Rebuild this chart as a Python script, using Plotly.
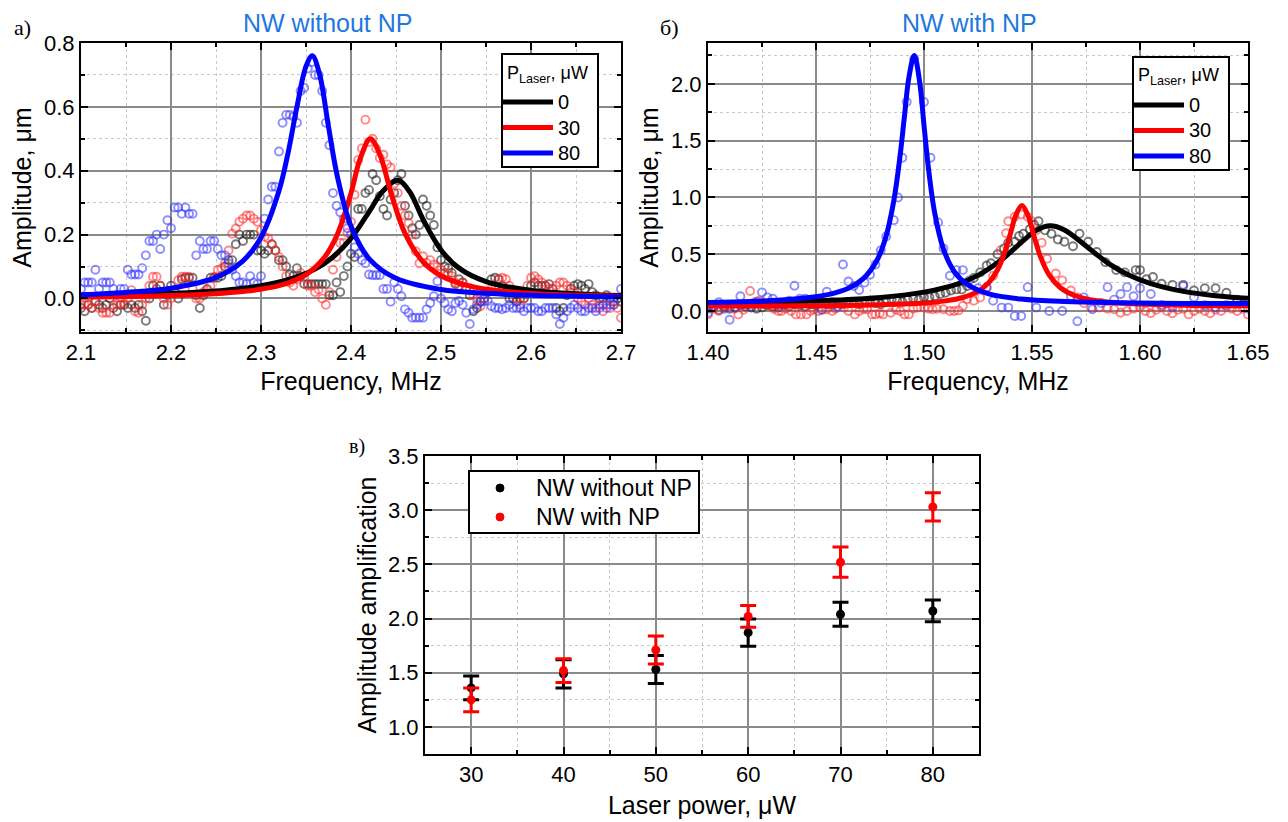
import plotly.graph_objects as go

# ---------------- Panel a: NW without NP ----------------
FREQ_A = [
    2.100, 2.104, 2.108, 2.112, 2.116, 2.120, 2.124, 2.128, 2.132, 2.136,
    2.140, 2.144, 2.148, 2.152, 2.156, 2.160, 2.164, 2.168, 2.172, 2.176,
    2.180, 2.184, 2.188, 2.192, 2.196, 2.200, 2.204, 2.208, 2.212, 2.216,
    2.220, 2.224, 2.228, 2.232, 2.236, 2.240, 2.244, 2.248, 2.252, 2.256,
    2.260, 2.264, 2.268, 2.272, 2.276, 2.280, 2.284, 2.288, 2.292, 2.296,
    2.300, 2.304, 2.308, 2.312, 2.316, 2.320, 2.324, 2.328, 2.332, 2.336,
    2.340, 2.344, 2.348, 2.352, 2.356, 2.360, 2.364, 2.368, 2.372, 2.376,
    2.380, 2.384, 2.388, 2.392, 2.396, 2.400, 2.404, 2.408, 2.412, 2.416,
    2.420, 2.424, 2.428, 2.432, 2.436, 2.440, 2.444, 2.448, 2.452, 2.456,
    2.460, 2.464, 2.468, 2.472, 2.476, 2.480, 2.484, 2.488, 2.492, 2.496,
    2.500, 2.504, 2.508, 2.512, 2.516, 2.520, 2.524, 2.528, 2.532, 2.536,
    2.540, 2.544, 2.548, 2.552, 2.556, 2.560, 2.564, 2.568, 2.572, 2.576,
    2.580, 2.584, 2.588, 2.592, 2.596, 2.600, 2.604, 2.608, 2.612, 2.616,
    2.620, 2.624, 2.628, 2.632, 2.636, 2.640, 2.644, 2.648, 2.652, 2.656,
    2.660, 2.664, 2.668, 2.672, 2.676, 2.680, 2.684, 2.688, 2.692, 2.696,
    2.700,
]
AMP_A_0 = [
    -0.03, -0.04, -0.02, -0.03, -0.01, -0.02, -0.03, -0.02, 0.00, -0.03,
    -0.04, -0.02, -0.02, -0.03, -0.02, -0.03, -0.02, -0.04, -0.07, 0.00,
    0.04, 0.03, 0.04, -0.02, 0.01, 0.04, 0.02, 0.00, 0.06, 0.065,
    0.065, 0.065, 0.01, -0.03, 0.01, 0.03, 0.065, 0.065, 0.065, 0.07,
    0.10, 0.12, 0.12, 0.17, 0.20, 0.18, 0.20, 0.20, 0.20, 0.15,
    0.15, 0.14, 0.15, 0.17, 0.15, 0.12, 0.12, 0.10, 0.075, 0.07,
    0.095, 0.07, 0.045, 0.045, 0.045, 0.045, 0.045, 0.045, 0.045, 0.01,
    0.01, 0.05, 0.02, 0.07, 0.10, 0.14, 0.13, 0.28, 0.28, 0.33,
    0.34, 0.39, 0.37, 0.32, 0.28, 0.26, 0.31, 0.33, 0.37, 0.39,
    0.29, 0.26, 0.22, 0.20, 0.23, 0.31, 0.29, 0.26, 0.23, 0.16,
    0.12, 0.10, 0.095, 0.08, 0.045, 0.06, 0.05, 0.03, 0.01, -0.04,
    -0.03, -0.01, 0.00, 0.02, 0.06, 0.065, 0.06, 0.04, 0.02, 0.00,
    0.00, -0.01, 0.00, 0.00, 0.02, 0.04, 0.05, 0.04, 0.04, 0.04,
    0.045, 0.03, -0.03, -0.04, -0.03, 0.01, 0.03, 0.04, 0.045, 0.04,
    0.03, 0.045, 0.02, 0.01, 0.00, 0.00, 0.01, 0.00, -0.01, 0.00,
    -0.01,
]
AMP_A_30 = [
    -0.02, -0.02, -0.02, -0.03, -0.01, -0.03, -0.045, -0.045, -0.045, -0.02,
    -0.02, -0.02, -0.015, 0.00, 0.026, -0.04, -0.045, -0.02, 0.00, 0.04,
    0.068, 0.068, 0.04, 0.00, -0.02, 0.00, 0.026, 0.057, 0.068, 0.068,
    0.068, 0.03, 0.00, 0.00, 0.02, 0.026, 0.04, 0.068, 0.089, 0.094,
    0.11, 0.15, 0.203, 0.219, 0.24, 0.25, 0.26, 0.26, 0.25, 0.24,
    0.214, 0.193, 0.188, 0.17, 0.15, 0.13, 0.10, 0.07, 0.05, 0.04,
    0.06, 0.08, 0.065, 0.04, 0.04, 0.02, 0.028, 0.00, -0.02, 0.02,
    0.09, 0.13, 0.174, 0.174, 0.205, 0.24, 0.325, 0.434, 0.47, 0.56,
    0.49, 0.50, 0.47, 0.44, 0.45, 0.42, 0.41, 0.36, 0.33, 0.29,
    0.26, 0.236, 0.20, 0.148, 0.11, 0.132, 0.111, 0.12, 0.106, 0.10,
    0.09, 0.08, 0.08, 0.07, 0.05, 0.04, 0.05, 0.03, 0.033, 0.01,
    -0.003, -0.024, 0.00, 0.02, 0.03, 0.03, 0.06, 0.065, 0.06, 0.04,
    0.02, 0.00, -0.02, 0.00, 0.04, 0.065, 0.07, 0.06, 0.05, 0.04,
    0.03, 0.03, 0.04, 0.05, 0.05, 0.04, 0.03, 0.02, 0.00, -0.01,
    -0.02, 0.00, -0.02, -0.03, -0.02, -0.04, -0.02, -0.03, -0.02, -0.03,
    -0.06,
]
AMP_A_80 = [
    0.03, 0.05, 0.05, 0.05, 0.09, 0.03, 0.05, 0.05, 0.05, 0.03,
    0.01, 0.03, 0.03, 0.09, 0.075, 0.075, 0.075, 0.095, 0.135, 0.18,
    0.18, 0.20, 0.155, 0.20, 0.245, 0.22, 0.285, 0.285, 0.265, 0.285,
    0.265, 0.265, 0.135, 0.18, 0.155, 0.155, 0.18, 0.18, 0.155, 0.135,
    0.135, 0.11, 0.09, 0.07, 0.05, 0.05, 0.045, 0.07, 0.05, 0.045,
    0.07, 0.25, 0.31, 0.35, 0.35, 0.46, 0.55, 0.575, 0.575, 0.57,
    0.55, 0.65, 0.66, 0.72, 0.74, 0.70, 0.70, 0.65, 0.55, 0.48,
    0.33, 0.29, 0.27, 0.25, 0.22, 0.20, 0.16, 0.14, 0.12, 0.11,
    0.075, 0.073, 0.073, 0.073, 0.03, 0.03, -0.01, 0.05, 0.03, 0.007,
    -0.034, -0.045, -0.06, -0.06, -0.06, -0.06, -0.034, -0.014, 0.007, 0.054,
    0.00, -0.014, -0.034, -0.04, -0.014, -0.008, -0.02, -0.045, -0.08, -0.034,
    -0.02, -0.01, -0.008, -0.008, -0.024, -0.03, -0.03, -0.034, -0.03, -0.02,
    -0.03, -0.03, -0.03, -0.04, -0.03, -0.03, -0.03, -0.04, -0.04, -0.03,
    -0.03, -0.03, -0.05, -0.08, -0.06, -0.04, -0.03, -0.02, -0.03, -0.04,
    -0.04, -0.03, -0.03, -0.04, -0.03, -0.02, -0.03, -0.02, -0.02, 0.00,
    0.03,
]

# fitted resonance curves, panel a
FIT_A_0_F = [2.10, 2.20, 2.26, 2.30, 2.33, 2.36, 2.38, 2.40, 2.42, 2.435,
             2.452, 2.465, 2.48, 2.50, 2.52, 2.55, 2.60, 2.65, 2.70]
FIT_A_0 = [0.008, 0.016, 0.026, 0.040, 0.059, 0.092, 0.130, 0.188, 0.271, 0.335,
           0.370, 0.335, 0.248, 0.152, 0.095, 0.053, 0.025, 0.015, 0.009]
FIT_A_30_F = [2.10, 2.20, 2.28, 2.32, 2.35, 2.37, 2.385, 2.40, 2.41, 2.4215,
              2.432, 2.445, 2.46, 2.48, 2.50, 2.53, 2.57, 2.62, 2.70]
FIT_A_30 = [0.004, 0.009, 0.022, 0.040, 0.075, 0.127, 0.202, 0.330, 0.436, 0.500,
            0.451, 0.325, 0.204, 0.115, 0.071, 0.040, 0.022, 0.013, 0.007]
FIT_A_80_F = [2.10, 2.15, 2.20, 2.25, 2.28, 2.30, 2.32, 2.33, 2.34, 2.35, 2.357,
              2.365, 2.375, 2.385, 2.40, 2.42, 2.45, 2.50, 2.55, 2.60, 2.70]
FIT_A_80 = [0.012, 0.019, 0.032, 0.066, 0.118, 0.191, 0.337, 0.455, 0.601, 0.727, 0.760,
            0.703, 0.538, 0.380, 0.226, 0.125, 0.063, 0.028, 0.016, 0.010, 0.005]

# ---------------- Panel b: NW with NP ----------------
FREQ_B_0 = [
    1.4000, 1.4025, 1.4050, 1.4075, 1.4100, 1.4125, 1.4150, 1.4175, 1.4200, 1.4225,
    1.4250, 1.4275, 1.4300, 1.4325, 1.4350, 1.4375, 1.4400, 1.4425, 1.4450, 1.4475,
    1.4500, 1.4525, 1.4550, 1.4575, 1.4600, 1.4625, 1.4650, 1.4675, 1.4700, 1.4725,
    1.4750, 1.4775, 1.4800, 1.4825, 1.4850, 1.4875, 1.4900, 1.4925, 1.4950, 1.4975,
    1.5000, 1.5025, 1.5050, 1.5075, 1.5100, 1.5125, 1.5150, 1.5175, 1.5200, 1.5230,
    1.5260, 1.5290, 1.5310, 1.5340, 1.5370, 1.5390, 1.5420, 1.5440, 1.5460, 1.5490,
    1.5510, 1.5530, 1.5560, 1.5590, 1.5620, 1.5650, 1.5690, 1.5720, 1.5760, 1.5800,
    1.5840, 1.5890, 1.5930, 1.5980, 1.6000, 1.6030, 1.6060, 1.6100, 1.6150, 1.6200,
    1.6250, 1.6300, 1.6350, 1.6400, 1.6450, 1.6500,
]
AMP_B_0 = [
    0.02, 0.03, 0.01, 0.04, 0.02, 0.03, 0.05, 0.04, 0.03, 0.02,
    0.03, 0.05, 0.04, 0.03, 0.05, 0.04, 0.06, 0.05, 0.04, 0.06,
    0.05, 0.07, 0.06, 0.05, 0.07, 0.06, 0.08, 0.07, 0.06, 0.08,
    0.09, 0.07, 0.06, 0.08, 0.10, 0.09, 0.08, 0.10, 0.11, 0.10,
    0.12, 0.12, 0.13, 0.15, 0.16, 0.18, 0.19, 0.19, 0.22, 0.29,
    0.34, 0.40, 0.42, 0.50, 0.55, 0.60, 0.61, 0.66, 0.68, 0.72,
    0.76, 0.79, 0.71, 0.68, 0.63, 0.61, 0.57, 0.68, 0.61, 0.52,
    0.43, 0.36, 0.34, 0.36, 0.36, 0.28, 0.30, 0.24, 0.23, 0.23,
    0.18, 0.20, 0.20, 0.16, 0.10, 0.08,
]
FREQ_B_30 = [
    1.4000, 1.4025, 1.4050, 1.4075, 1.4100, 1.4125, 1.4140, 1.4165, 1.4195, 1.4215,
    1.4235, 1.4246, 1.4265, 1.4285, 1.4305, 1.4325, 1.4340, 1.4360, 1.4385, 1.4407,
    1.4430, 1.4456, 1.4475, 1.4490, 1.4510, 1.4530, 1.4550, 1.4575, 1.4590, 1.4610,
    1.4630, 1.4650, 1.4680, 1.4700, 1.4720, 1.4737, 1.4760, 1.4776, 1.4795, 1.4810,
    1.4846, 1.4870, 1.4890, 1.4910, 1.4930, 1.4950, 1.4970, 1.5000, 1.5020, 1.5040,
    1.5060, 1.5090, 1.5120, 1.5140, 1.5160, 1.5180, 1.5200, 1.5230, 1.5260, 1.5290,
    1.5320, 1.5355, 1.5380, 1.5390, 1.5420, 1.5450, 1.5480, 1.5500, 1.5520, 1.5545,
    1.5570, 1.5610, 1.5640, 1.5680, 1.5710, 1.5740, 1.5775, 1.5810, 1.5850, 1.5880,
    1.5910, 1.5940, 1.5970, 1.6000, 1.6025, 1.6050, 1.6075, 1.6100, 1.6125, 1.6150,
    1.6175, 1.6200, 1.6225, 1.6250, 1.6275, 1.6300, 1.6325, 1.6350, 1.6375, 1.6400,
    1.6425, 1.6450, 1.6475, 1.6500,
]
AMP_B_30 = [
    -0.03, 0.02, 0.00, 0.03, 0.046, 0.02, -0.03, 0.01, 0.176, 0.077,
    0.09, 0.077, 0.06, 0.046, 0.02, 0.00, 0.00, 0.02, 0.00, -0.03,
    -0.03, -0.03, 0.00, 0.015, 0.00, 0.01, 0.015, 0.00, 0.02, 0.06,
    0.03, 0.00, -0.03, 0.00, 0.015, 0.015, -0.03, -0.03, -0.02, -0.03,
    -0.015, 0.01, 0.00, -0.03, -0.03, 0.02, 0.03, 0.03, 0.02, 0.015,
    0.02, 0.015, 0.00, 0.00, 0.005, 0.045, 0.104, 0.09, 0.119, 0.20,
    0.31, 0.536, 0.685, 0.79, 0.83, 0.85, 0.83, 0.79, 0.71, 0.60,
    0.46, 0.33, 0.27, 0.18, 0.12, 0.07, 0.03, 0.03, 0.02, 0.015,
    -0.015, 0.00, 0.02, 0.03, 0.00, -0.02, 0.01, 0.03, 0.00, -0.02,
    0.01, 0.02, -0.03, 0.00, 0.02, 0.00, -0.02, 0.01, 0.00, 0.03,
    0.02, 0.00, 0.02, -0.03,
]
FREQ_B_80 = [
    1.4000, 1.4025, 1.4050, 1.4075, 1.4100, 1.4125, 1.4150, 1.4175, 1.4200, 1.4225,
    1.4250, 1.4275, 1.4300, 1.4325, 1.4350, 1.4375, 1.4400, 1.4425, 1.4450, 1.4475,
    1.4500, 1.4525, 1.4550, 1.4575, 1.4600, 1.4625, 1.4650, 1.4675, 1.4700, 1.4725,
    1.4750, 1.4775, 1.4800, 1.4825, 1.4860, 1.4880, 1.4900, 1.4920, 1.4955, 1.5000,
    1.5030, 1.5065, 1.5090, 1.5120, 1.5150, 1.5180, 1.5210, 1.5250, 1.5290, 1.5320,
    1.5360, 1.5390, 1.5420, 1.5450, 1.5480, 1.5520, 1.5580, 1.5640, 1.5680, 1.5710,
    1.5740, 1.5780, 1.5820, 1.5850, 1.5880, 1.5910, 1.5940, 1.5970, 1.6000, 1.6050,
    1.6100, 1.6150, 1.6200, 1.6250, 1.6300, 1.6350, 1.6400, 1.6450, 1.6500,
]
AMP_B_80 = [
    -0.015, 0.04, 0.077, 0.02, -0.077, 0.03, 0.13, 0.06, 0.04, 0.08,
    0.164, 0.12, 0.108, 0.05, 0.06, 0.09, 0.222, 0.108, 0.108, 0.06,
    0.08, 0.01, 0.17, 0.08, 0.037, 0.41, 0.26, 0.22, 0.185, 0.25,
    0.32, 0.41, 0.534, 0.657, 0.80, 1.00, 1.35, 1.84, 2.22, 1.84,
    1.35, 0.78, 0.55, 0.31, 0.36, 0.36, 0.27, 0.20, 0.21, 0.09,
    0.03, 0.03, -0.045, -0.045, 0.21, 0.03, 0.00, 0.00, 0.13, -0.09,
    0.12, 0.015, 0.07, 0.21, 0.10, 0.15, 0.21, 0.13, 0.20, 0.15,
    0.05, 0.03, 0.22, 0.12, 0.05, 0.03, 0.05, 0.08, 0.02,
]

# fitted resonance curves, panel b
FIT_B_0_F = [1.400, 1.430, 1.460, 1.480, 1.500, 1.515, 1.525, 1.535, 1.545, 1.552,
             1.5584, 1.565, 1.575, 1.585, 1.595, 1.605, 1.620, 1.635, 1.650]
FIT_B_0 = [0.068, 0.078, 0.096, 0.119, 0.166, 0.235, 0.314, 0.437, 0.603, 0.710,
           0.750, 0.714, 0.573, 0.424, 0.314, 0.241, 0.173, 0.135, 0.112]
FIT_B_30_F = [1.400, 1.450, 1.480, 1.500, 1.510, 1.518, 1.525, 1.530, 1.534, 1.537,
              1.540, 1.5425, 1.5453, 1.548, 1.551, 1.554, 1.558, 1.563, 1.570, 1.580,
              1.595, 1.620, 1.650]
FIT_B_30 = [0.043, 0.047, 0.055, 0.070, 0.089, 0.119, 0.173, 0.250, 0.361, 0.496,
            0.681, 0.843, 0.930, 0.848, 0.654, 0.474, 0.315, 0.207, 0.134, 0.090,
            0.065, 0.051, 0.046]
FIT_B_80_F = [1.400, 1.420, 1.440, 1.455, 1.465, 1.472, 1.478, 1.482, 1.486, 1.489,
              1.491, 1.493, 1.4955, 1.498, 1.500, 1.502, 1.505, 1.509, 1.514, 1.520,
              1.530, 1.545, 1.565, 1.590, 1.620, 1.650]
FIT_B_80 = [0.075, 0.084, 0.105, 0.142, 0.200, 0.287, 0.438, 0.629, 0.969, 1.379,
            1.724, 2.055, 2.250, 2.015, 1.635, 1.267, 0.859, 0.545, 0.348, 0.234,
            0.151, 0.105, 0.083, 0.073, 0.067, 0.065]

# ---------------- Panel c: amplitude amplification ----------------
POWER = [30, 40, 50, 60, 70, 80]
GAIN_NO_NP = [1.36, 1.49, 1.53, 1.87, 2.04, 2.07]
GAIN_NO_NP_ERR = [0.11, 0.13, 0.13, 0.125, 0.11, 0.10]
GAIN_NP = [1.25, 1.52, 1.71, 2.02, 2.52, 3.03]
GAIN_NP_ERR = [0.11, 0.11, 0.13, 0.10, 0.14, 0.13]

POWER_LABELS = ["0", "30", "80"]
SAMPLE_LABELS = ["NW without NP", "NW with NP"]

# ---------------- styling ----------------
W, H = 1288, 822
FONT = "Liberation Sans"
SERIF = "Liberation Serif"
TITLE_BLUE = "#1F78E0"
LINE_COLORS = ["#000000", "#FF0000", "#0000FF"]
SAMPLE_COLORS = ["#000000", "#FF0000"]
POINT_COLORS = ["rgba(40,40,40,0.62)", "rgba(255,40,40,0.55)", "rgba(50,50,255,0.55)"]
TICK_SIZE = 22
TITLE_SIZE = 25


def px_x(x):
    return x / W


def px_y(y):
    return 1 - y / H


def axis(domain, rng, dtick, minor_dtick, fmt, title, standoff, anchor):
    return dict(
        domain=domain, range=rng, dtick=dtick, tickformat=fmt, anchor=anchor,
        showline=True, linecolor="black", linewidth=2, mirror="allticks",
        ticks="inside", ticklen=7, tickwidth=2, tickcolor="black",
        showgrid=True, gridcolor="#8a8a8a", gridwidth=1.6, zeroline=False,
        tickfont=dict(family=FONT, size=TICK_SIZE, color="black"),
        title=dict(text=title, font=dict(family=FONT, size=TITLE_SIZE, color="black"), standoff=standoff),
        minor=dict(dtick=minor_dtick, ticks="inside", ticklen=4, tickwidth=1.5, tickcolor="black",
                   showgrid=True, gridcolor="#c8c8c8", griddash="dot", gridwidth=1),
        automargin=False, fixedrange=True,
    )


fig = go.Figure()

# panel a measured points
for amps, col in zip([AMP_A_0, AMP_A_30, AMP_A_80], POINT_COLORS):
    fig.add_trace(go.Scatter(
        x=FREQ_A, y=amps, mode="markers", xaxis="x", yaxis="y", showlegend=False,
        marker=dict(symbol="circle-open", size=8, color=col, line=dict(width=1.9, color=col)),
        hoverinfo="skip"))
# panel a fits
for fx, fy, col, name in zip([FIT_A_0_F, FIT_A_30_F, FIT_A_80_F], [FIT_A_0, FIT_A_30, FIT_A_80],
                             LINE_COLORS, POWER_LABELS):
    fig.add_trace(go.Scatter(
        x=fx, y=fy, mode="lines", xaxis="x", yaxis="y", name=name, showlegend=False,
        line=dict(color=col, width=5, shape="spline", smoothing=1.0)))

# panel b measured points
for fx, amps, col in zip([FREQ_B_0, FREQ_B_30, FREQ_B_80], [AMP_B_0, AMP_B_30, AMP_B_80], POINT_COLORS):
    fig.add_trace(go.Scatter(
        x=fx, y=amps, mode="markers", xaxis="x2", yaxis="y2", showlegend=False,
        marker=dict(symbol="circle-open", size=8, color=col, line=dict(width=1.9, color=col)),
        hoverinfo="skip"))
# panel b fits
for fx, fy, col, name in zip([FIT_B_0_F, FIT_B_30_F, FIT_B_80_F], [FIT_B_0, FIT_B_30, FIT_B_80],
                             LINE_COLORS, POWER_LABELS):
    fig.add_trace(go.Scatter(
        x=fx, y=fy, mode="lines", xaxis="x2", yaxis="y2", name=name, showlegend=False,
        line=dict(color=col, width=5, shape="spline", smoothing=1.0)))

# panel c amplification with error bars
for vals, errs, col, name in zip([GAIN_NO_NP, GAIN_NP], [GAIN_NO_NP_ERR, GAIN_NP_ERR],
                                 SAMPLE_COLORS, SAMPLE_LABELS):
    fig.add_trace(go.Scatter(
        x=POWER, y=vals, mode="markers", xaxis="x3", yaxis="y3", name=name, showlegend=False,
        marker=dict(symbol="circle", size=9, color=col),
        error_y=dict(type="data", array=errs, visible=True, thickness=3, width=8, color=col)))

# plot-area frames in pixels
A = dict(l=81, r=621, t=43, b=332)
B = dict(l=708, r=1248, t=43, b=332)
C = dict(l=425, r=979, t=456, b=754)

fig.update_layout(
    width=W, height=H, margin=dict(l=0, r=0, t=0, b=0),
    paper_bgcolor="white", plot_bgcolor="white", showlegend=False,
    font=dict(family=FONT, color="black"),
    xaxis=axis([px_x(A["l"]), px_x(A["r"])], [2.1, 2.7], 0.1, 0.05, ".1f", "Frequency, MHz", 8, "y"),
    yaxis=axis([px_y(A["b"]), px_y(A["t"])], [-0.105, 0.8], 0.2, 0.1, ".1f", "Amplitude, μm", 5, "x"),
    xaxis2=axis([px_x(B["l"]), px_x(B["r"])], [1.40, 1.65], 0.05, 0.025, ".2f", "Frequency, MHz", 8, "y2"),
    yaxis2=axis([px_y(B["b"]), px_y(B["t"])], [-0.185, 2.36], 0.5, 0.25, ".1f", "Amplitude, μm", 5, "x2"),
    xaxis3=axis([px_x(C["l"]), px_x(C["r"])], [25, 85], 10, 5, "d", "Laser power, μW", 10, "y3"),
    yaxis3=axis([px_y(C["b"]), px_y(C["t"])], [0.75, 3.5], 0.5, 0.25, ".1f", "Amplitude amplification", 4, "x3"),
)

shapes = []
annotations = []


def add_text(text, x, y, size, family=FONT, color="black", xanchor="center"):
    annotations.append(dict(text=text, x=px_x(x), y=px_y(y), xref="paper", yref="paper",
                            showarrow=False, xanchor=xanchor, yanchor="middle",
                            font=dict(family=family, size=size, color=color)))


def add_box(l, t, r, b):
    shapes.append(dict(type="rect", xref="paper", yref="paper", layer="above",
                       x0=px_x(l), x1=px_x(r), y0=px_y(b), y1=px_y(t),
                       line=dict(color="black", width=2), fillcolor="white"))


def power_key(l, t, r, b):
    # key box for the laser-power fits: long thick line samples with labels
    add_box(l, t, r, b)
    add_text("P<sub>Laser</sub>, μW", l + 3, t + 20, 18, xanchor="left")
    for k, (lab, col) in enumerate(zip(POWER_LABELS, LINE_COLORS)):
        yy = t + 48 + 25.5 * k
        shapes.append(dict(type="line", xref="paper", yref="paper", layer="above",
                           x0=px_x(l + 1), x1=px_x(l + 51), y0=px_y(yy), y1=px_y(yy),
                           line=dict(color=col, width=5)))
        add_text(lab, l + 54, yy, 20, xanchor="left")


power_key(502, 54, 598, 167)
power_key(1133, 57, 1229, 170)

# key box for panel c
add_box(469, 471, 699, 533)
for k, (lab, col) in enumerate(zip(SAMPLE_LABELS, SAMPLE_COLORS)):
    yy = 488 + 29 * k
    shapes.append(dict(type="circle", xref="paper", yref="paper", layer="above",
                       x0=px_x(496), x1=px_x(504), y0=px_y(yy + 4), y1=px_y(yy - 4),
                       line=dict(color=col, width=1), fillcolor=col))
    add_text(lab, 534, yy, 23, xanchor="left")

# panel titles and letters
add_text("NW without NP", 327, 23, 25, color=TITLE_BLUE)
add_text("NW with NP", 970, 23, 25, color=TITLE_BLUE)
add_text("a)", 22, 28, 22, family=SERIF)
add_text("б)", 669, 28, 22, family=SERIF)
add_text("в)", 357, 447, 20, family=SERIF)

fig.update_layout(shapes=shapes, annotations=annotations)

fig.write_html("out.html")
